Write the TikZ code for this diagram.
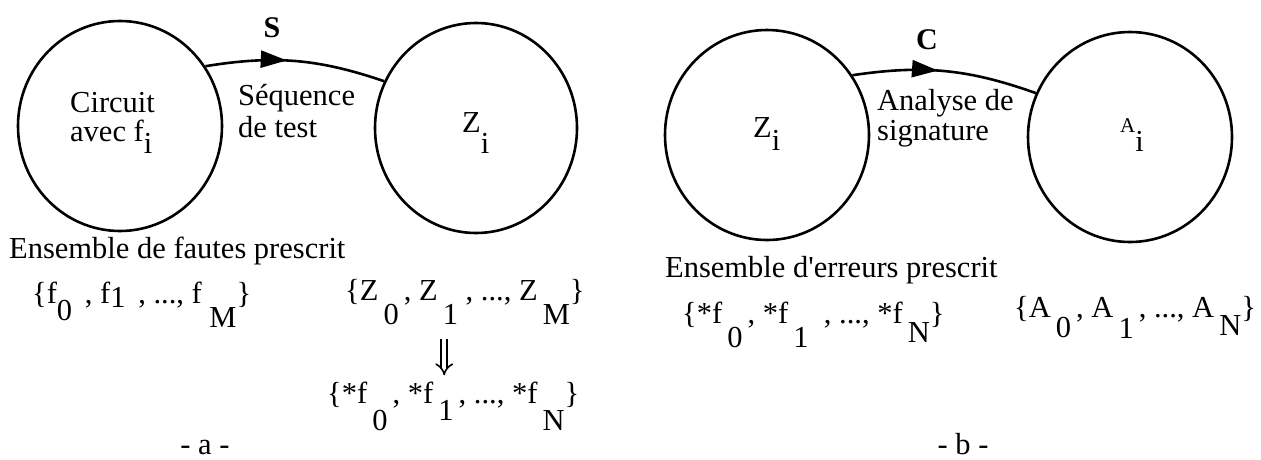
\documentclass[tikz,border=0pt]{standalone}
\usepackage{fontspec}
\setmainfont{Liberation Serif}[Ligatures=TeXOff]
\usepackage{tikz}
\usetikzlibrary{calc,arrows.meta,positioning}
\usetikzlibrary{shapes.geometric,decorations.markings}

% lowered index, as the old typesetting did it
\newcommand{\dn}[2][0.8em]{\raisebox{-#1}{#2}}

\begin{document}
\begin{tikzpicture}[
    x=1pt,
    y=-1pt,
    >=Latex,
    every node/.style={font=\fontsize{30.5}{35}\selectfont},
    state/.style={
        ellipse,
        draw=black,
        line width=2.6pt,
        inner sep=0pt,
        minimum width=204pt,
        minimum height=210pt
    },
    conn/.style={line width=2.6pt},
    midarrow/.style={
        postaction={decorate},
        decoration={markings,
            mark=at position #1 with {\arrow{Triangle[length=26pt,width=17pt]}}}
    },
    implies/.style={
        double,
        double distance=4.5pt,
        line width=1.6pt,
        -{Implies[length=9pt]}
    },
    txt/.style={anchor=base west,inner sep=0pt},
    caption/.style={anchor=base,inner sep=0pt}
]

\useasboundingbox (0,0) rectangle (1261,459);

% ---------------------------------------------------------
% Panel a : circuit and test sequence
% ---------------------------------------------------------

\node[state] (circuit) at (120,126) {};
\node[txt] (circuitTxt) at (70,112) {Circuit};
\node[txt] (avecTxt) at (70,141) {avec f\dn[0.4em]{i}};

\node[state,minimum width=202pt] (zA) at (476,128) {};
\node[txt] (zAtxt) at (462,132) {Z\dn[0.7em]{i}};

\draw[conn,midarrow=0.45]
    (circuit.35) to[bend left=14] (zA.153);

\node[font=\fontsize{30}{34}\selectfont\bfseries] (sLabel)
    at (272,28) {S};

\node[txt] (seqTxt) at (238,105) {Séquence};
\node[txt] (testTxt) at (238,137) {de test};

% sets of panel a
\node[txt] (faultsA) at (9,258) {Ensemble de fautes prescrit};

\node[txt] (fsetA) at (32,303)
{\{f\dn[0.56em]{0}\ \,, f\dn[0.16em]{1}\ \,, ..., f~\dn{M}\}};

\node[txt] (zset) at (345,300)
{\{Z\,\dn{0}\,, Z\,\dn{1}\ , ..., Z\,\dn{M}\}};

\node[txt] (starsetA) at (327,403)
{\{*f\,\dn[0.89em]{0}\,, *f\,\dn[0.56em]{1}\,, ..., *f\,\dn[0.89em]{N}\}};

\draw[implies]
    ($(starsetA.north |- zset.south)+(-9,14)$) -- ([xshift=-9pt,yshift=6pt]starsetA.north);

\node[caption] (capA) at (205,454) {- a -};

% ---------------------------------------------------------
% Panel b : signature analysis
% ---------------------------------------------------------

\node[state] (zB) at (767,135) {};
\node[txt] (zBtxt) at (753,137) {Z\dn[0.45em]{i}};

\node[state] (aB) at (1130,137) {};
\node[txt] (aBtxt) at (1120,132)
{{\fontsize{21}{25}\selectfont A}\dn[0.65em]{i}};

\draw[conn,midarrow=0.46]
    (zB.35) to[bend left=14] (aB.155);

\node[font=\fontsize{30}{34}\selectfont\bfseries] (cLabel)
    at (927,40) {C};

\node[txt] (anaTxt) at (877,110) {Analyse de};
\node[txt] (sigTxt) at (877,140) {signature};

% sets of panel b
\node[txt] (errorsB) at (665,277) {Ensemble d'erreurs prescrit};

\node[txt] (starsetB) at (682,323)
{\{*f\,\dn{0}\,, *f\,\dn{1}\ \ , ..., *f\,\dn[0.65em]{N}\}};

\node[txt] (asetB) at (1014,317)
{\{A\,\dn[0.66em]{0}\hspace{5pt}, A\,\dn[0.7em]{1}\hspace{5pt}, ..., A\,\dn[0.6em]{N}\}};

\node[caption] (capB) at (963,454) {- b -};

\end{tikzpicture}
\end{document}
